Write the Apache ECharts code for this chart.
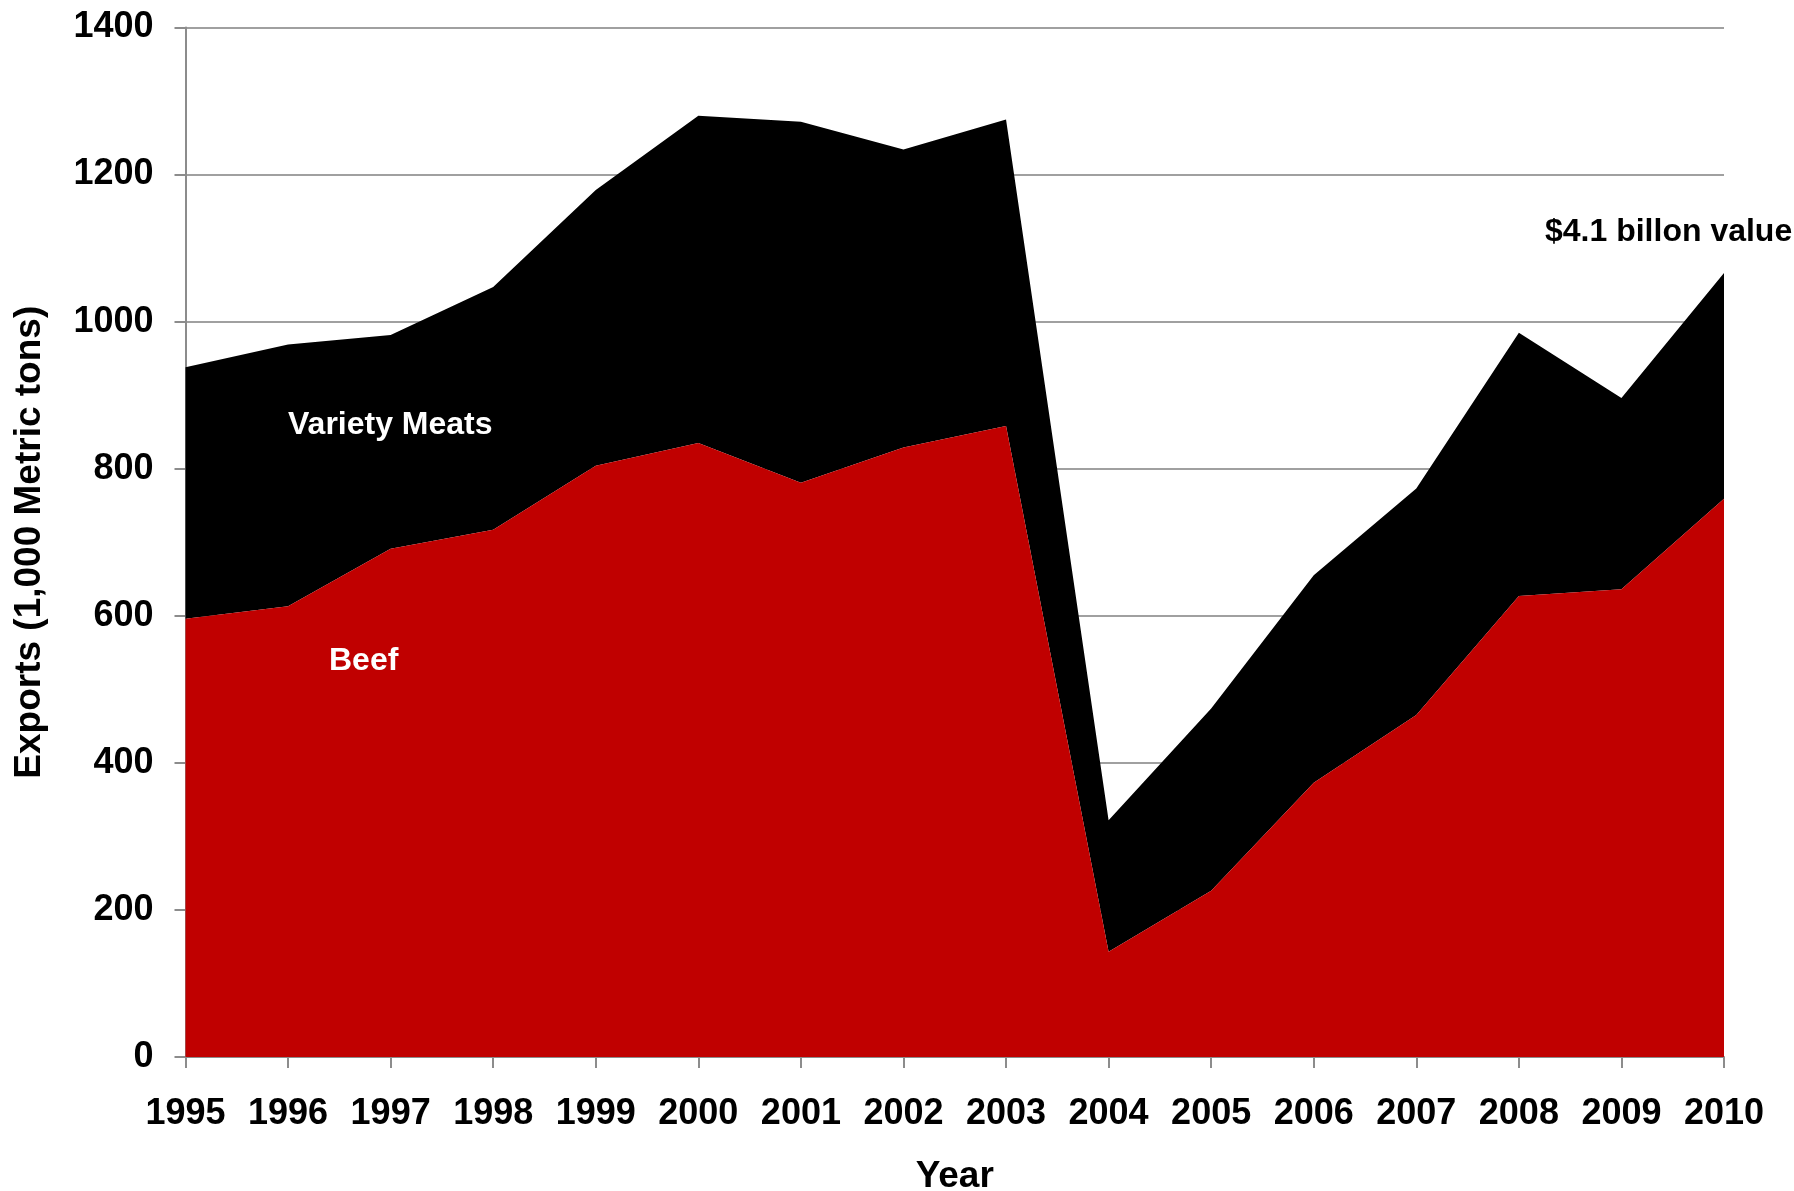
<!DOCTYPE html>
<html>
<head>
<meta charset="utf-8">
<script src="https://cdn.jsdelivr.net/npm/echarts@6/dist/echarts.min.js"></script>
<style>
html,body{margin:0;padding:0;background:#fff;}
#chart{width:1794px;height:1191px;}
</style>
</head>
<body>
<div id="chart"></div>
<script>
const years = ['1995','1996','1997','1998','1999','2000','2001','2002','2003','2004','2005','2006','2007','2008','2009','2010'];
const beef = [596, 613, 691, 717, 804, 835, 781, 829, 858, 143, 226, 373, 465, 627, 636, 759];
const varietyMeats = [342, 356, 291, 330, 375, 445, 491, 405, 417, 179, 248, 282, 308, 358, 260, 307];
const yTicks = { min: 0, max: 1400, interval: 200 };

const FONT = '"Liberation Sans", Arial, sans-serif';
const chart = echarts.init(document.getElementById('chart'), null, { renderer: 'canvas' });
chart.setOption({
  animation: false,
  backgroundColor: '#ffffff',
  grid: { left: 185.5, right: 70, top: 27.5, bottom: 134, containLabel: false, outerBoundsMode: 'none' },
  xAxis: {
    type: 'category',
    data: years,
    boundaryGap: false,
    name: 'Year',
    nameLocation: 'middle',
    nameGap: 101,
    nameTextStyle: { fontFamily: FONT, fontWeight: 'bold', fontSize: 37, color: '#000' },
    axisLine: { show: true, lineStyle: { color: '#8c8c8c', width: 2 } },
    axisTick: { show: true, inside: false, length: 11, alignWithLabel: true, lineStyle: { color: '#8c8c8c', width: 2 } },
    axisLabel: { fontFamily: FONT, fontWeight: 'bold', fontSize: 36, color: '#000', margin: 39, interval: 0 },
    splitLine: { show: false }
  },
  yAxis: {
    type: 'value',
    min: yTicks.min, max: yTicks.max, interval: yTicks.interval,
    name: 'Exports (1,000 Metric tons)',
    nameLocation: 'middle',
    nameGap: 137,
    nameRotate: 90,
    nameTextStyle: { fontFamily: FONT, fontWeight: 'bold', fontSize: 37, color: '#000' },
    axisLine: { show: true, lineStyle: { color: '#8c8c8c', width: 2 } },
    axisTick: { show: true, inside: false, length: 11, lineStyle: { color: '#8c8c8c', width: 2 } },
    axisLabel: { fontFamily: FONT, fontWeight: 'bold', fontSize: 36, color: '#000', margin: 32, formatter: function (v) { return String(v); } },
    splitLine: { show: true, lineStyle: { color: '#a0a0a0', width: 2 } }
  },
  series: [
    {
      name: 'Beef', type: 'line', stack: 'total', data: beef,
      symbol: 'none', lineStyle: { width: 0 },
      areaStyle: { color: '#c00000', opacity: 1 },
      itemStyle: { color: '#c00000' }, z: 3
    },
    {
      name: 'Variety Meats', type: 'line', stack: 'total', data: varietyMeats,
      symbol: 'none', lineStyle: { width: 0 },
      areaStyle: { color: '#000000', opacity: 1 },
      itemStyle: { color: '#000000' }, z: 2
    }
  ],
  graphic: [
    { type: 'text', z: 100, x: 288, y: 425, style: { text: 'Variety Meats', fill: '#ffffff', font: 'bold 32px ' + FONT, verticalAlign: 'middle', align: 'left' } },
    { type: 'text', z: 100, x: 329, y: 661, style: { text: 'Beef', fill: '#ffffff', font: 'bold 32px ' + FONT, verticalAlign: 'middle', align: 'left' } },
    { type: 'text', z: 100, x: 1545, y: 232, style: { text: '$4.1 billon value', fill: '#000000', font: 'bold 32px ' + FONT, verticalAlign: 'middle', align: 'left' } }
  ]
});
</script>
</body>
</html>
